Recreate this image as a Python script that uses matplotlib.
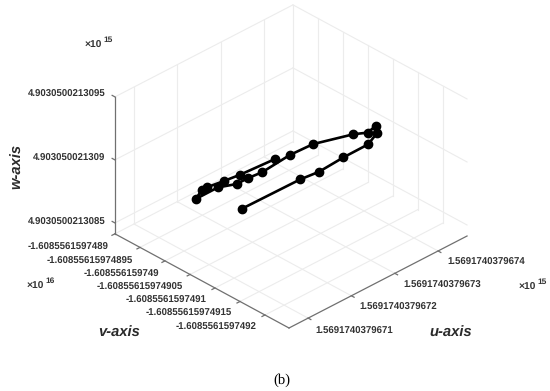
import matplotlib
matplotlib.use("Agg")
import matplotlib.pyplot as plt
from mpl_toolkits.mplot3d import proj3d

# ---- data ----
u_vals = [1.569174037967171, 1.569174037967292, 1.569174037967325, 1.569174037967379,
          1.569174037967425, 1.569174037967447, 1.569174037967451, 1.569174037967426,
          1.569174037967405, 1.569174037967342, 1.569174037967297, 1.569174037967239,
          1.569174037967215, 1.569174037967195, 1.569174037967171, 1.569174037967132,
          1.569174037967153, 1.569174037967159, 1.569174037967187, 1.569174037967207,
          1.569174037967270]
v_vals = [-1.608556159749054, -1.608556159749066, -1.608556159749075, -1.608556159749077,
          -1.608556159749087, -1.608556159749085, -1.608556159749080, -1.608556159749085,
          -1.608556159749074, -1.608556159749048, -1.608556159749041, -1.608556159749036,
          -1.608556159749028, -1.608556159749023, -1.608556159749006, -1.608556159748996,
          -1.608556159748990, -1.608556159748995, -1.608556159749005, -1.608556159749019,
          -1.608556159749034]
w_vals = [4.903050021308739, 4.903050021308783, 4.903050021308804, 4.903050021308826,
          4.903050021308870, 4.903050021308913, 4.903050021308957, 4.903050021308957,
          4.903050021308957, 4.903050021308935, 4.903050021308913, 4.903050021308870,
          4.903050021308848, 4.903050021308826, 4.903050021308804, 4.903050021308761,
          4.903050021308783, 4.903050021308804, 4.903050021308826, 4.903050021308870,
          4.903050021308913]

u_ticks = [1.5691740379671, 1.5691740379672, 1.5691740379673, 1.5691740379674]
v_ticks = [-1.6085561597489, -1.60855615974895, -1.608556159749, -1.60855615974905,
           -1.6085561597491, -1.60855615974915, -1.6085561597492]
w_ticks = [4.9030500213085, 4.903050021309, 4.9030500213095]
u_lim = (1.569174037967056, 1.569174037967467)
v_lim = (-1.608556159749248, -1.6085561597489)
w_lim = (4.903050021308413, 4.9030500213095)

u_labels = ["1.5691740379671", "1.5691740379672", "1.5691740379673", "1.5691740379674"]
v_labels = ["-1.6085561597489", "-1.60855615974895", "-1.608556159749", "-1.60855615974905",
            "-1.6085561597491", "-1.60855615974915", "-1.6085561597492"]
w_labels = ["4.9030500213085", "4.903050021309", "4.9030500213095"]

# ---- style ----
W, H = 550, 391
GRID = "#ececec"
AXC = "#707070"
TXT = "#333333"
plt.rcParams["font.family"] = ["Liberation Sans", "DejaVu Sans"]
plt.rcParams["text.hinting"] = "no_hinting"
plt.rcParams["text.hinting_factor"] = 8

fig = plt.figure(figsize=(W / 100, H / 100), dpi=100)
side = 520.0
ax = fig.add_axes([0, 0, side / W, side / H], projection="3d", computed_zorder=False)
ax.set_proj_type("ortho")
ax.view_init(elev=31.9, azim=-134.35)
ax.set_box_aspect((1, 1, 0.648))
ax.set_xlim(*u_lim)
ax.set_ylim(*v_lim)
ax.set_zlim(*w_lim)
ax.set_axis_off()
ax.patch.set_visible(False)


def px(u, v, w):
    x, y, _ = proj3d.proj_transform(u, v, w, ax.get_proj())
    return ax.transData.transform((x, y))


# fit the box onto the reference's pixel corners: front (289,328), left (115,234), right (467,236)
x0, y0 = 0.0, 0.0
for _ in range(4):
    ax.set_position([x0 / W, y0 / H, side / W, side / H])
    ax.apply_aspect()
    L = px(u_lim[0], v_lim[1], w_lim[0])
    R = px(u_lim[1], v_lim[0], w_lim[0])
    side *= 352.0 / (R[0] - L[0])
    ax.set_position([x0 / W, y0 / H, side / W, side / H])
    ax.apply_aspect()
    F = px(u_lim[0], v_lim[0], w_lim[0])
    x0 += 289 - F[0]
    y0 += (H - 328) - F[1]
ax.set_position([x0 / W, y0 / H, side / W, side / H])


def seg(us, vs, ws, **kw):
    ax.plot(us, vs, ws, **kw)


g = dict(color=GRID, lw=0.8, zorder=1)
for u in u_ticks:
    seg([u, u], v_lim, [w_lim[0]] * 2, **g)
    seg([u, u], [v_lim[1]] * 2, w_lim, **g)
for v in v_ticks:
    seg(u_lim, [v, v], [w_lim[0]] * 2, **g)
    seg([u_lim[1]] * 2, [v, v], w_lim, **g)
for w in w_ticks:
    seg(u_lim, [v_lim[1]] * 2, [w, w], **g)
    seg([u_lim[1]] * 2, v_lim, [w, w], **g)

a = dict(color=AXC, lw=0.9, zorder=2)
seg([u_lim[0]] * 2, [v_lim[1]] * 2, w_lim, **a)
seg([u_lim[0]] * 2, v_lim, [w_lim[0]] * 2, **a)
seg(u_lim, [v_lim[0]] * 2, [w_lim[0]] * 2, **a)

du = u_lim[1] - u_lim[0]
dv = v_lim[1] - v_lim[0]
for u in u_ticks:
    seg([u, u], [v_lim[0], v_lim[0] - 0.016 * dv], [w_lim[0]] * 2, **a)
for v in v_ticks:
    seg([u_lim[0], u_lim[0] - 0.016 * du], [v, v], [w_lim[0]] * 2, **a)
for w in w_ticks:
    seg([u_lim[0]] * 2, [v_lim[1], v_lim[1] + 0.016 * dv], [w, w], **a)

ax.plot(u_vals, v_vals, w_vals, color="black", lw=1.9, marker="o", ms=6.0, zorder=5)


def t(x, y, s, **kw):
    kw.setdefault("fontsize", 6.9)
    kw.setdefault("fontweight", "bold")
    kw.setdefault("color", TXT)
    kw.setdefault("va", "center")
    fig.text(x / W, 1 - y / H, s, **kw)


for (x, y), s in zip([(105.7, 222), (105.7, 158), (105.7, 94)], w_labels):
    t(x, y, s, ha="right")
for (x, y), s in zip([(109, 247), (133, 261), (159, 274), (183, 287), (207, 300), (232, 313), (257, 327)], v_labels):
    t(x, y, s, ha="right")
for (x, y), s in zip([(315, 331), (359, 307), (403, 285), (447, 262)], u_labels):
    t(x, y, s, ha="left")

for (x, y, e) in [(85, 45, "15"), (27, 286, "16"), (519, 287, "15")]:
    t(x, y, "×10", ha="left", fontsize=7.4)
    t(x + 18.5, y - 5, e, ha="left", fontsize=6.0)

lab = dict(fontsize=10.6, fontstyle="italic", fontweight="bold", ha="center", color="#2a2a2a")
t(17, 166, "w-axis", rotation=90, **lab)
t(119, 333, "v-axis", **lab)
t(451, 333, "u-axis", **lab)
t(282, 380, "(b)", family="Liberation Serif", fontsize=10.5, fontweight="normal", ha="center", color="black")

fig.savefig("out.png", dpi=100)
